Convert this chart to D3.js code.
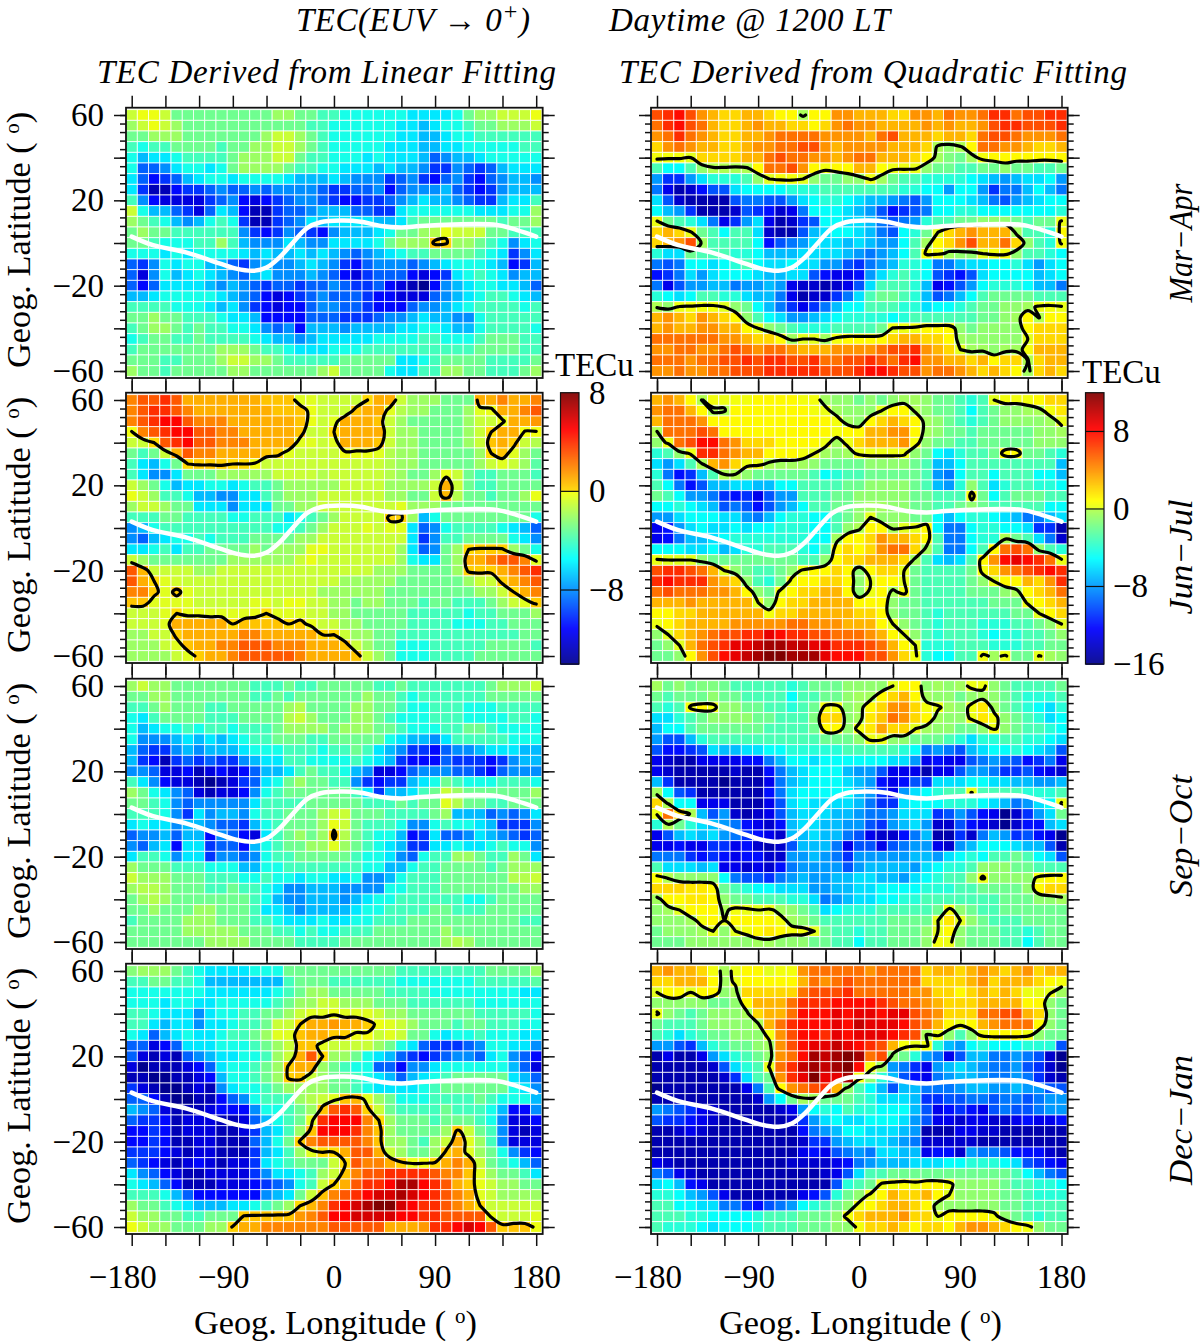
<!DOCTYPE html>
<html><head><meta charset="utf-8">
<script src="https://cdnjs.cloudflare.com/ajax/libs/d3/7.8.5/d3.min.js"></script>
<style>html,body{margin:0;padding:0;background:#fff}svg{display:block}text{font-family:"Liberation Serif",serif;fill:#000}</style>
</head><body><div id="chart"></div>
<script>
const lons=d3.range(-180,181,10);
const lats=d3.range(60,-61,-5);
const lonTicks=d3.range(-180,181,30);
const lonLabels=[-180,-90,0,90,180];
const latMajor=d3.range(-60,61,20);
const latMinor=d3.range(-60,61,4);
const latLabels=[60,20,-20,-60];
const eqLon=[-180,-161,-131,-102,-87,-72,-60,-48,-36,-24,-12,6,24,42,60,77,106,145,163,180];
const eqLat=[3,-1,-4.5,-9.5,-12,-13,-11.5,-6.5,0.5,7,9.7,10.5,10,8,7.3,8,8.7,8.5,6,3];
const marAprLinear=[
[-1,-0.2,-0.2,-1,-3,-3,-3,-3,-3,-3,-3,-3,-3,-2,-2,-3,-3,-4,-4,-5,-5,-5,-5,-5,-5,-6,-6,-6,-6,-5,-3,-2,-2,-1,-1,-1,-0.2],
[-2,-1,-0.2,-1,-2,-3,-3,-3,-3,-3,-3,-3,-3,-3,-3,-3,-4,-4,-5,-5,-5,-5,-5,-5,-6,-6,-7,-6,-5,-5,-4,-3,-3,-2,-2,-2,-1],
[-3,-3,-2,-2,-2,-3,-3,-3,-3,-3,-3,-3,-2,-1,-1,-2,-3,-4,-5,-5,-5,-5,-5,-5,-6,-6,-7,-7,-6,-5,-5,-4,-4,-4,-4,-4,-4],
[-4,-5,-4,-4,-3,-3,-3,-3,-4,-3,-3,-2,-2,-1,-1,-2,-3,-4,-5,-5,-5,-5,-5,-6,-6,-6,-7,-7,-6,-6,-5,-5,-5,-5,-5,-4,-4],
[-5,-7,-6,-6,-5,-4,-4,-4,-4,-3,-2,-2,-2,-1,-1,-3,-4,-4,-5,-5,-5,-6,-5,-6,-6,-6,-7,-9,-8,-7,-7,-6,-5,-5,-5,-5,-5],
[-5,-9,-9,-8,-6,-5,-5,-6,-5,-3,-2,-2,-2,-2,-3,-4,-4,-5,-5,-6,-6,-6,-7,-6,-7,-7,-8,-10,-10,-8,-9,-10,-9,-7,-6,-6,-6],
[-6,-9,-11,-10,-9,-7,-6,-5,-5,-6,-5,-5,-5,-5,-6,-7,-7,-7,-6,-7,-8,-8,-8,-10,-9,-8,-10,-11,-9,-8,-10,-11,-9,-8,-7,-7,-8],
[-6,-10,-13,-13,-11,-10,-10,-9,-8,-9,-9,-8,-9,-8,-8,-8,-8,-9,-10,-10,-9,-9,-8,-11,-9,-8,-8,-8,-7,-9,-10,-11,-10,-8,-7,-7,-7],
[-4,-8,-11,-12,-12,-12,-12,-10,-9,-8,-11,-12,-11,-10,-9,-8,-8,-9,-10,-11,-11,-10,-10,-9,-8,-7,-6,-7,-7,-8,-9,-10,-10,-7,-6,-6,-4],
[-1,-5,-7,-7,-9,-10,-12,-9,-6,-7,-11,-13,-13,-10,-9,-9,-8,-7,-7,-7,-9,-9,-10,-10,-6,-5,-5,-5,-5,-5,-5,-6,-6,-6,-5,-5,-2],
[-2,-3,-4,-5,-7,-8,-7,-5,-4,-5,-10,-13,-13,-10,-9,-8,-6,-7,-6,-6,-6,-6,-7,-7,-6,-4,-3,-3,-3,-3,-3,-3,-3,-4,-3,-3,-2],
[-3,-2,-3,-3,-4,-4,-4,-4,-4,-4,-8,-10,-11,-10,-8,-9,-10,-11,-8,-7,-7,-7,-6,-5,-3,-3,-2,-1.5,-0.3,-1,-1,-1,-3,-3,-4,-4,-4],
[-3,-3,-4,-5,-5,-5,-4,-4,-2,-4,-7,-8,-8,-8,-6,-7,-8,-8,-6,-6,-6,-6,-5,-3,-2,-2,-2,0.5,0.2,-2,-2,-3,-4,-5,-8,-6,-5],
[-5,-5,-5,-6,-5,-6,-5,-5,-5,-5,-6,-7,-6,-7,-7,-6,-7,-6,-7,-8,-9,-8,-7,-6,-5,-4,-4,-3,-3,-3,-3,-4,-5,-6,-10,-8,-6],
[-9,-10,-8,-5,-6,-5,-5,-7,-7,-9,-10,-8,-7,-8,-8,-7,-6,-7,-8,-10,-11,-9,-8,-8,-8,-9,-8,-7,-6,-5,-5,-5,-6,-7,-11,-10,-7],
[-9,-12,-8,-5,-7,-6,-5,-6,-7,-8,-9,-7,-6,-8,-8,-8,-7,-8,-9,-11,-12,-10,-9,-9,-9,-11,-12,-11,-10,-6,-5,-4,-5,-6,-8,-7,-7],
[-9,-11,-9,-6,-6,-6,-6,-7,-8,-7,-8,-9,-10,-9,-9,-10,-9,-9,-8,-9,-10,-10,-9,-11,-12,-13,-14,-11,-8,-7,-6,-5,-5,-6,-6,-7,-9],
[-7,-7,-6,-5,-5,-5,-5,-5,-6,-7,-8,-9,-11,-12,-11,-10,-9,-8,-9,-9,-9,-10,-11,-11,-12,-12,-12,-9,-8,-7,-6,-5,-4,-4,-5,-6,-7],
[-4,-4,-4,-4,-5,-5,-5,-6,-7,-6,-8,-10,-11,-12,-11,-11,-9,-8,-8,-9,-9,-10,-11,-11,-11,-9,-8,-8,-7,-6,-5,-4,-4,-4,-4,-5,-4],
[-3,-3,-2,-3,-3,-4,-4,-4,-5,-6,-6,-7,-11,-11,-11,-11,-9,-9,-9,-10,-10,-10,-9,-8,-8,-7,-6,-7,-7,-8,-8,-5,-4,-4,-4,-4,-4],
[-4,-3,-2,-2,-3,-4,-3,-4,-4,-5,-5,-6,-8,-9,-8,-11,-7,-7,-7,-8,-7,-7,-7,-7,-6,-6,-5,-5,-6,-7,-7,-5,-4,-4,-4,-4,-5],
[-5,-4,-3,-3,-4,-4,-3,-4,-4,-4,-4,-5,-6,-7,-7,-8,-7,-6,-6,-6,-6,-6,-5,-5,-5,-5,-4,-4,-5,-5,-5,-4,-3,-3,-3,-4,-4],
[-4,-3,-3,-3,-3,-3,-3,-3,-2,-2,-2,-3,-4,-4,-5,-6,-6,-6,-5,-5,-5,-4,-4,-4,-4,-4,-4,-4,-4,-4,-4,-3,-3,-3,-3,-4,-4],
[-3,-3,-3,-4,-4,-3,-3,-3,-2,-1,-1,-2,-2,-3,-4,-4,-4,-4,-4,-3,-3,-3,-3,-3,-6,-6,-5,-4,-3,-3,-3,-3,-4,-4,-4,-4,-3],
[-2,-3,-3,-4,-3,-3,-3,-3,-3,-2,-2,-3,-3,-3,-3,-3,-3,-2,-1,-3,-3,-3,-3,-5,-6,-6,-4,-4,-2,-2,-3,-3,-4,-4,-4,-3,-2]];
const marAprQuadratic=[
[6,7,8,6,4,3,2,2,3,3,2,1,1,-0.3,1,1,4,4,3,3,3,2,2,4,4,3,5,4,4,5,7,7,5,6,6,7,7],
[5,7,8,6,5,3,2,2,3,4,3,3,2,2,1,2,4,5,4,4,3,3,3,3,4,3,4,3,3,4,6,7,7,6,6,6,7],
[4,5,7,5,4,3,2,2,3,3,4,5,5,5,5,4,4,4,4,3,5,6,3,3,3,2,3,3,2,5,6,6,5,4,4,4,5],
[2,4,5,4,3,3,2,2,3,4,4,5,5,6,6,4,3,4,4,4,4,3,3,3,2,-0.3,-1,-0.2,1,5,5,4,4,3,2,2,3],
[0.5,0.5,0.5,0,2,2,2,2,3,3,5,6,5,5,4,4,3,4,5,5,3,3,3,2,1,-0.5,-1.5,-2,-0.5,0.5,1,1,1,1,1,1,1],
[-3,-5,-5,-3,-1,-0.2,-0.2,-0.3,-0.2,1,5,5,6,4,1,0.5,1,1,3,3,0.8,0.3,0.3,0.2,-1,-2,-2,-3,-3,-2,-2,-1,-2,-2,-3,-3,-2],
[-8,-11,-11,-8,-6,-4,-4,-4,-3,-1,0,0.5,0.5,0,-1,-2,-2,-1,-1,0.2,-0.5,-2,-3,-3,-4,-4,-4,-4,-5,-6,-7,-8,-7,-6,-6,-5,-8],
[-9,-13,-15,-14,-12,-10,-10,-6,-5,-5,-5,-5,-4,-4,-4,-3,-3,-3,-3,-3,-3,-3,-4,-4,-5,-5,-8,-5,-5,-8,-11,-9,-9,-7,-5,-7,-9],
[-6,-10,-14,-15,-15,-15,-15,-10,-9,-9,-10,-10,-8,-6,-5,-4,-4,-5,-6,-7,-7,-8,-9,-10,-8,-5,-5,-5,-6,-7,-9,-10,-8,-7,-6,-5,-5],
[-5,-7,-8,-11,-15,-15,-15,-14,-10,-11,-12,-14,-13,-9,-5,-5,-5,-6,-7,-8,-10,-12,-11,-10,-9,-5,-5,-4,-4,-5,-5,-5,-5,-5,-5,-5,-4],
[0.3,-2,-3,-4,-6,-9,-13,-11,-8,-6,-13,-15,-14,-11,-10,-5,-5,-6,-6,-7,-9,-10,-9,-8,-4,-3,-3,-2,-2,-1,-1,-1,-2,-3,-2,-2,0.3],
[2,3,2,0.2,-2,-3,-5,-3,-3,-6,-14,-15,-15,-10,-7,-6,-5,-5,-6,-7,-9,-10,-5,-4,-2,0,2,3,4,3,3,3,-0.5,-3,-3,-4,1],
[2,3,4,6,-0.5,-3,-3,-3,-3,-5,-12,-10,-9,-8,-6,-6,-6,-7,-6,-7,-8,-8,-5,-3,-0.5,1,2,4,6,3,3,5,2,-1,-3,-4,0.5],
[-4,-6,-6,-2,-3,-3,-3,-4,-4,-5,-7,-7,-7,-6,-6,-6,-6,-7,-8,-9,-8,-7,-5,-3,0.5,0.5,-0.5,-1,-1,0,0.5,0.5,-1,-3,-3,-4,-5],
[-9,-10,-9,-5,-5,-6,-5,-4,-3,-5,-6,-6,-5,-6,-6,-8,-8,-10,-11,-9,-8,-7,-4,-4,-5,-9,-9,-7,-6,-6,-5,-5,-4,-6,-8,-6,-5],
[-12,-11,-9,-6,-8,-6,-5,-5,-5,-6,-7,-7,-6,-6,-10,-12,-13,-13,-12,-8,-6,-4,-3,-4,-5,-10,-11,-12,-10,-6,-5,-5,-5,-5,-7,-6,-5],
[-9,-13,-10,-8,-8,-7,-7,-9,-8,-8,-7,-8,-13,-14,-14,-15,-14,-13,-10,-6,-3,-3,-3,-4,-7,-13,-12,-10,-8,-5,-4,-4,-4,-5,-7,-7,-9],
[-4,-5,-6,-5,-3,-3,-4,-4,-6,-7,-7,-9,-13,-15,-14,-14,-11,-9,-6,-3,-2,-2,-3,-4,-7,-10,-9,-7,-5,-3,-2,-2,-2,-2,-3,-3,-3],
[-0.2,-1,0.3,0.5,0.5,0.5,0,-1,-2,-5,-7,-9,-11,-13,-11,-9,-7,-5,-5,-3,-3,-3,-4,-4,-6,-5,-5,-4,-3,-2,-2,-1,-1,-0.5,0.3,0.5,0.2],
[3,4,3,2,4,3,2,1,-1,-3,-5,-6,-8,-8,-7,-6,-5,-4,-4,-4,-4,-5,-4,-3,-3,-3,-3,-3,-3,-2,-2,-1,-0.5,1,-0.05,1,1],
[3,4,3,3,4,4,3,3,1,0,-1,-2,-3,-4,-4,-4,-3,-3,-3,-3,-2,0.2,0.3,0.4,1,1,1,-1,-2,-1,-1,-1,-1,1,2,2,2],
[5,5,5,5,5,5,4,4,3,2,2,1,-0.5,0,0,-0.5,0.5,1,1,1,1,2,3,3,2,2,1,-0.5,-1,-1,-1,-1,-1,0,2,2,2],
[4,4,5,5,4,4,5,6,5,4,5,5,4,3,3,3,4,4,4,4,5,6,6,7,4,3,2,0,-0.5,-0.5,-1,-0.5,-0.5,0.5,3,3,3],
[5,5,5,4,5,5,6,6,7,6,7,7,6,6,7,5,5,6,6,7,6,5,7,8,4,4,3,3,2,3,1,2,2,-0.1,2,3,3],
[4,4,5,4,4,5,5,6,6,6,7,7,7,7,7,6,6,6,7,8,8,7,6,6,4,5,5,4,3,2,3,2,1,-0.5,2,3,2]];
const junJulLinear=[
[2,3,3,4,3,1,1,1,1,1,1,1,0.5,0.5,0.5,-0.5,-0.5,-1,-1,-1,-1,0,1,1,-1,-2,-2,-2,-3,-3,-3,1,1,2,1,1,2],
[2,3,4,4,3,2,1,1,1,1,1,1,1,0.5,0.5,0.5,-0.3,-1,-1,-1,0.5,1,1,-0.5,-1.5,-2,-2,-3,-3,-3,-2,-0.5,-0.3,1,1,2,3],
[2,3,4,5,5,3,2,2,2,1,1,1,1,1,1,0.5,-0.3,-1,-0.5,1,1,1,0.5,-1,-2,-3,-3,-3,-3,-3,-2,-1,-1,-0.2,1,1,1.5],
[-0.1,2,3,4,5,5,3,3,2,2,1,1,1,1,1,0.5,-1,-1,0,1,1,1,1,-1,-2,-2,-3,-3,-3,-3,-2,-1,0,1,1,-0.1,-0.1],
[-1,-1,0,3,4,5,3,3,2,2,2,1,1,1,1,-0.5,-0.5,-1,-0.5,1,1,1,0.5,-1,-2,-2,-3,-3,-3,-3,-2,-1,0.5,1,0.3,-1,-1.5],
[-3,-4,-3,-1,1,3,2,2,1,1,1,1,0.5,0.3,-0.5,-1,-1,-1,-1,-0.2,-0.3,-0.3,-0.5,-1.5,-2,-2,-3,-3,-3,-3,-3,-2,0,0.5,-0.5,-2,-3],
[-4,-6,-7,-5,-3,0,0.3,0.3,0.3,0,0,-0.1,-1,-1,-1,-1,-1,-1,-1,-1,-1,-1,-1,-1.5,-2,-2,-3,-3,-3,-3,-3,-2,-1,-0.5,-1,-2,-3.5],
[-4,-6,-8,-8,-6,-3,-3,-3,-2,-2,-2,-2,-2,-1,-1,-1,-1,-1.5,-1,-1,-1,-1,-1,-1.5,-2,-3,-3,-2,-0.3,-1,-3,-4,-4,-3,-3,-3,-4],
[-1,-2,-3,-5,-7,-6,-6,-5,-5,-6,-5,-4,-4,-3,-2,-2,-2,-2,-2,-1,-1,-1,-1,-2,-2,-2,-2,-1,1,-1,-3,-4,-4,-3,-3,-3,-3],
[-0.3,-1,-2,-4,-4,-5,-7,-7,-8,-8,-6,-6,-4,-3,-2,-2,-2,-1,-1,-1,-1,-1,-1,-2,-2,-3,-3,-1,0.8,-1.5,-3,-3,-4,-3,-3,-2,-0.3],
[-2,-1,-1,-2,-3,-3,-6,-6,-6,-8,-6,-6,-6,-3,-3,-2,-2,-1,-1,-1,-1,-1,-1,-1,-0.5,-2,-2,-2,-3,-3,-3,-3,-3,-3,-3,-3,-3],
[-4,-4,-4,-3,-3,-4,-4,-4,-4,-5,-5,-4,-4,-4,-6,-5,-4,-3,-2,-1,-1,-1,-1,0.3,0.2,-2,-7,-5,-3,-3,-3,-3,-3,-3,-3,-3,-5],
[-8,-7,-5,-4,-4,-4,-4,-4,-4,-4,-4,-4,-4,-5,-5,-4,-3,-2,-1,-1,-1,-0.5,-1,-0.5,-0.5,-6,-9,-8,-5,-4,-4,-4,-4,-5,-6,-7,-9],
[-8,-9,-7,-6,-5,-5,-4,-5,-4,-4,-4,-3,-3,-3,-3,-2,-2,-1,-1,-1,-1,-1,-1,-1,-1,-6,-10,-8,-4,-4,-3,-3,-3,-3,-5,-6,-8],
[-6,-6,-5,-4,-6,-4,-4,-3,-3,-3,-3,-2,-3,-2,-2,-2,-0.5,-0.3,-1,-1,-1,-1,-1,-1,-2,-6,-9,-8,-3,-2,0,0.3,0.3,0.2,-2,-3,-5],
[-1,-2,-3,-3,-3,-3,-3,-3,-3,-2,-2,-2,-2,-2,-2,-1,-0.3,-1,-1,-1,-1,-1,-1,-1,-2,-5,-6,-6,-3,-2,1,1,2,3,3,2,-0.5],
[3,0.8,-1,-1,-1,-1,-2,-2,-1,-1,-1,-1,-1,-1,-1,-1,-1,-1,-1,-1,-1,-1,-2,-2,-2,-3,-3,-3,-3,-2,0.3,0.3,0.3,1,2,3,4],
[3,1,0,-0.5,-0.8,-1,-1,-1,-1,-1,-1,-1,-1,-1,-1,-1,-1,-1,-1,-2,-2,-2,-2,-2,-3,-3,-3,-3,-3,-3,-2,-1,-1,0.3,1,2,3],
[2,2,0.3,-0.5,0.3,-0.5,-1,-1,-1,-1,-1,-1,-1,-1,-1,-1,-1,-2,-2,-2,-2,-2,-2,-3,-3,-3,-3,-3,-3,-3,-3,-2,-2,-1,0,1,2],
[0.5,0.5,-0.5,-0.5,-0.5,-0.5,-1,-1,-1,-1,-1,-0.5,-0.5,-1,-0.3,-0.3,-1,-1,-2,-2,-3,-2,-2,-3,-3,-3,-4,-3,-3,-4,-4,-4,-3,-2,-1,-0.5,0.3],
[-1,-1,-1,-0.5,0,-0.3,-0.3,-0.5,-0.5,-0.5,-0.5,-0.3,0,-0.5,-0.5,-0.5,-1,-1,-2,-2,-3,-3,-3,-3,-3,-4,-4,-4,-4,-4,-5,-4,-4,-3,-3,-3,-2],
[-1,-1,-1,-0.5,1,1,1,1,1,0,0.5,0.5,0.5,0.5,0,0.3,-0.3,-1,-1,-2,-2,-3,-3,-3,-3,-4,-4,-4,-4,-5,-5,-5,-4,-4,-3,-3,-3],
[-2,-2,-1,-1,0.3,1,1,1,1,1,2,2,1,1,1,1,1,0,0,-1,-2,-2,-3,-3,-4,-4,-4,-4,-4,-4,-4,-4,-4,-4,-4,-3,-3],
[-2,-2,-2,-1,-0.5,0.5,1,1,2,2,3,3,3,2,2,2,1,1,1,0.5,-1,-2,-3,-3,-5,-5,-5,-4,-4,-4,-4,-4,-3,-3,-3,-3,-4],
[-2,-2,-2,-2,-1,-0.5,0.3,1,1,2,3,3,3,3,3,2,1,1,1,1,0.5,-1,-2,-3,-5,-5,-5,-4,-4,-4,-4,-3,-3,-3,-3,-3,-3]];
const junJulQuadratic=[
[3,4,3,1,-0.05,0.5,0.3,0.5,0.5,1,1,1,1,0.5,0.5,-0.5,-1,-1,-2,-1,-2,-1,-0.5,-0.5,-1,-2,-2,-3,-4,-3,0,0.5,0.5,0.5,1,2,2],
[4,5,5,3,1,-0.2,-0.1,1,1,1,1,1,1,1,0.5,0.3,-0.5,-1,-1,-1,0,1,1,-0.2,-1,-2,-2,-3,-5,-3,-2,-1,-1,-0.5,-0.3,0.5,1.5],
[3,5,5,5,4,1,1,1,1,1,1,1,1,1,1,1,0.5,-0.5,-1,1,2,3,2,1,-0.5,-1,-2,-3,-4,-3,-2,-1,-1,-1,-1,-0.5,0.3],
[-0.2,5,5,5,6,5,1,1,1,1,1,1,1,1,1,1,0.5,1,1,3,3,4,4,1,-0.5,-1,-2,-2,-3,-2,-2,-2,-2,-2,-1,-1,-0.5],
[-1,0.3,5,6,8,8,5,4,2,2,2,1,1,1,1,0.3,-0.5,0.3,2,3,3,3,4,0.5,-1,-2,-2,-3,-3,-2,-2,-2,-2,-2,-1,-1,-1],
[-4,-3,-1,0.3,7,7,5,4,3,3,1,1,1,0.5,0,-0.5,-1,-0.5,0.3,0.3,0.3,0.3,0.2,-1,-2,-5,-6,-4,-3,-3,-2,1,1,-2,-2,-3,-4],
[-6,-8,-6,-3,-0.2,3,4,2,0.3,0.3,-0.2,-0.5,-0.5,-0.5,-1,-2,-2,-2,-2,-1,-1,-1,-1,-2,-3,-7,-7,-5,-3,-3,-3,-3,-3,-3,-3,-3,-7],
[-4,-9,-12,-11,-7,-3,-0.1,-0.1,-1,-2,-2,-2,-2,-2,-3,-5,-4,-3,-3,-2,-2,-2,-2,-2,-3,-8,-9,-5,-3,-3,-5,-3,-3,-3,-5,-5,-7],
[-3,-5,-9,-12,-10,-7,-7,-6,-6,-7,-7,-5,-5,-3,-3,-3,-3,-2,-2,-1,-1,-1,-1,-2,-3,-7,-8,-4,-1,-3,-6,-4,-3,-3,-4,-4,-5],
[-2,-3,-5,-8,-8,-9,-11,-12,-11,-13,-10,-8,-8,-3,-3,-3,-2,-2,-1,-1,-1,-1,-1,-2,-2,-3,-3,-3,0.6,-2,-5,-3,-2,-2,-2,-3,-3],
[-5,-5,-4,-5,-6,-7,-10,-9,-10,-12,-10,-8,-7,-5,-3,-3,-2,-2,-1,-0.5,-0.5,-1,-1,-2,-2,-3,-3,-2,-1,-2,-3,-3,-3,-3,-3,-5,-5],
[-8,-8,-6,-5,-5,-5,-6,-6,-8,-9,-7,-5,-4,-4,-5,-5,-3,-2,-1,0,-1,-1,-1,-2,-2,-5,-7,-5,-4,-4,-5,-6,-7,-9,-9,-7,-6],
[-13,-12,-8,-6,-5,-6,-6,-5,-6,-5,-5,-4,-4,-4,-5,-5,-3,-1,-0.2,1,1,-0.3,0,0.2,1,-5,-9,-9,-5,-4,-4,-5,-5,-6,-11,-11,-15],
[-13,-12,-9,-7,-7,-6,-5,-4,-4,-4,-4,-4,-4,-4,-5,-5,-0.5,1,1,2,4,3,3,2,1,-3,-9,-9,-5,-4,-4,-0.2,-2,-3,-6,-9,-14],
[-5,-5,-5,-6,-6,-5,-7,-6,-4,-4,-3,-3,-3,-4,-5,-3,1,2,1,2,4,5,5,2,-0.5,-3,-9,-9,-5,-3,1,5,6,5,-1,-3,-4],
[0.3,0,0,0,-1,-2,-2,-2,-2,-2,-2,-2,-2,-3,-3,-1,1,2,2,3,3,3,2,-0.5,-3,-6,-7,-6,-3,1,4,8,9,8,7,5,0.3],
[6,7,7,6,5,3,0,-1,-2,-3,-3,-2,-1,0.3,1,1,2,1,-1,1,2,2,0,-2,-3,-3,-3,-3,-2,0.5,2,4,5,6,7,8,7],
[7,8,7,7,7,4,3,2,-1,-3,-4,-2,0.5,1,1,2,2,1,-1,0,1,1,0,-2,-3,-3,-3,-3,-2,-1,0,1,1,3,2,4,7],
[5,6,5,5,5,4,4,3,1,-1,-2,0.5,1,2,2,3,3,1,-1,0.3,1,-0.3,0.5,-2,-3,-3,-3,-3,-2,-2,-2,-1,-0.3,1,2,3,5],
[3,3,3,4,3,3,3,3,3,0,-1,1,2,2,3,3,3,3,1,1,1,-1,-2,-2,-3,-3,-3,-3,-3,-3,-2,-2,-2,0.3,1,2,3],
[1,1,2,2,3,3,3,3,3,3,0.5,2,2,3,3,3,3,3,2,2,1,-1,-2,-2,-3,-4,-3,-3,-3,-3,-3,-3,-2,-2,0,1,2],
[0.3,1,2,3,3,3,3,4,4,4,4,4,5,5,4,4,4,3,3,3,1,0,-1,-2,-3,-4,-3,-3,-3,-4,-4,-4,-3,-3,-2,-1,0],
[-1,0,2,3,4,5,6,6,7,7,9,8,7,7,6,6,5,5,5,4,3,1,0,-1,-3,-4,-3,-3,-3,-4,-5,-4,-4,-3,-3,-2,-1],
[-2,-1,0,3,5,6,7,9,9,10,11,11,10,10,9,9,7,7,7,6,5,3,1,0,-4,-4,-4,-3,-3,-3,-4,-4,-4,-3,-3,-2,-2],
[-2,-2,-1,1,4,6,8,9,10,11,12,12,11,11,11,9,8,8,8,6,6,4,2,0.5,-4,-5,-5,-3,-3,0.5,-0.5,0.3,-2,-2,0.1,-0.5,-1]];
const sepOctLinear=[
[-2,-1,-2,-2,-3,-3,-3,-3,-3,-3,-3,-4,-4,-4,-3,-4,-4,-3,-3,-3,-3,-3,-4,-4,-3,-4,-4,-4,-4,-4,-4,-4,-3,-2,-2,-2,-1],
[-3,-3,-2,-2,-3,-3,-3,-3,-3,-3,-3,-4,-4,-3,-4,-3,-3,-3,-3,-3,-3,-2,-3,-3,-4,-5,-4,-4,-4,-4,-4,-4,-3,-3,-3,-3,-3],
[-4,-4,-3,-2,-3,-3,-3,-4,-4,-3,-3,-3,-3,-3,-2,-1.5,-3,-3,-3,-3,-2,-2,-3,-3,-4,-5,-5,-4,-4,-4,-5,-5,-5,-4,-4,-4,-4],
[-5,-6,-4,-3,-3,-3,-3,-4,-4,-4,-3,-3,-3,-3,-1.5,-1,-2,-3,-3,-3,-2,-2,-3,-4,-5,-5,-5,-4,-4,-4,-5,-5,-5,-5,-4,-4,-5],
[-5,-7,-6,-5,-5,-4,-5,-4,-4,-5,-4,-4,-4,-3,-2,-2,-2,-2,-3,-2,-2,-2,-3,-3,-4,-5,-5,-5,-4,-4,-3,-3,-4,-5,-5,-5,-5],
[-5,-8,-8,-8,-7,-6,-7,-6,-7,-6,-5,-4,-4,-3,-3,-3,-4,-4,-3,-3,-3,-3,-3,-5,-6,-7,-7,-8,-6,-4,-4,-4,-4,-4,-5,-5,-5],
[-7,-9,-10,-10,-8,-7,-8,-7,-7,-7,-6,-5,-5,-5,-4,-4,-4,-5,-4,-4,-3,-4,-6,-7,-8,-10,-10,-11,-9,-8,-8,-7,-6,-6,-6,-7,-7],
[-7,-10,-11,-13,-10,-9,-10,-9,-10,-10,-8,-7,-6,-6,-4,-4,-5,-5,-5,-5,-4,-5,-6,-7,-10,-11,-11,-11,-9,-10,-10,-10,-11,-10,-8,-7,-7],
[-8,-8,-9,-12,-12,-11,-13,-12,-11,-12,-11,-9,-7,-7,-6,-4,-3,-4,-4,-5,-7,-8,-12,-12,-11,-9,-8,-8,-8,-9,-9,-10,-11,-9,-8,-8,-8],
[-4,-6,-8,-11,-12,-12,-13,-14,-13,-12,-10,-9,-6,-5,-3,-2,-3,-3,-4,-4,-8,-10,-11,-10,-10,-7,-6,-5,-3,-4,-5,-5,-5,-4,-4,-4,-5],
[-2,-3,-5,-6,-8,-9,-12,-13,-12,-12,-11,-8,-5,-4,-3,-3,-3,-3,-3,-3,-4,-6,-10,-7,-7,-6,-4,-3,-1,-2,-3,-3,-3,-3,-3,-3,-2],
[-3,-3,-4,-5,-8,-9,-8,-8,-8,-8,-8,-6,-4,-4,-4,-4,-3,-3,-3,-3,-3,-4,-4,-4,-3,-4,-3,-3,-0.5,-1.5,-3,-3,-4,-4,-3,-3,-3],
[-4,-4,-4,-5,-8,-10,-6,-8,-7,-7,-8,-5,-4,-4,-3,-3,-3,-2,-1,-1,-3,-3,-3,-4,-4,-4,-4,-3,-2,-7,-7,-7,-9,-8,-9,-8,-6],
[-6,-5,-6,-6,-8,-7,-7,-8,-9,-9,-10,-7,-5,-4,-3,-3,-3,-2,-0.3,-1,-3,-4,-4,-4,-5,-8,-8,-5,-4,-5,-5,-6,-7,-10,-10,-10,-8],
[-9,-8,-8,-7,-9,-7,-7,-11,-8,-9,-11,-12,-6,-4,-3,-2,-3,-2,0.3,-1.5,-3,-4,-5,-5,-7,-11,-10,-6,-9,-9,-8,-6,-7,-8,-9,-10,-9],
[-8,-9,-7,-6,-11,-6,-6,-10,-9,-9,-11,-7,-5,-4,-3,-3,-2,-2,-0.5,-2,-3,-4,-5,-6,-7,-10,-10,-6,-6,-5,-6,-6,-5,-4,-5,-5,-8],
[-6,-4,-4,-5,-8,-6,-6,-10,-8,-8,-9,-8,-5,-4,-4,-3,-3,-3,-3,-3,-4,-5,-5,-6,-8,-9,-5,-4,-4,-2,-2,-3,-4,-4,-2,-3,-6],
[-2,-3,-3,-3,-4,-4,-4,-5,-5,-5,-7,-7,-5,-5,-4,-4,-4,-4,-4,-4,-4,-5,-5,-7,-7,-5,-4,-4,-3,-3,-3,-3,-4,-3,-2,-2,-2],
[-1,-2,-2,-2,-3,-3,-3,-4,-4,-4,-5,-5,-4,-5,-5,-6,-5,-5,-6,-6,-5,-8,-8,-7,-5,-4,-4,-4,-3,-3,-3,-3,-3,-3,-1.5,-1.5,-1],
[-2,-1.5,-1.5,-2,-3,-3,-3,-4,-4,-3,-4,-4,-5,-6,-8,-8,-7,-7,-7,-8,-8,-8,-8,-5,-5,-4,-4,-4,-3,-3,-3,-3,-3,-3,-3,-2,-2],
[-3,-2,-1.5,-2,-3,-3,-3,-3,-3,-3,-3,-4,-5,-7,-8,-8,-7,-7,-7,-8,-7,-6,-5,-5,-4,-4,-4,-4,-4,-4,-5,-5,-4,-3,-3,-3,-3],
[-3,-3,-2,-3,-3,-3,-2,-2,-3,-3,-3,-4,-6,-6,-7,-8,-7,-7,-7,-7,-6,-5,-5,-4,-4,-4,-4,-3,-3,-4,-4,-4,-3,-3,-3,-3,-3],
[-4,-3,-3,-3,-3,-2,-2,-2,-3,-3,-3,-4,-4,-5,-6,-6,-6,-5,-6,-6,-5,-5,-4,-4,-4,-3,-3,-3,-3,-3,-3,-3,-3,-3,-3,-4,-4],
[-3,-3,-3,-3,-3,-2,-2,-2,-2,-2,-3,-3,-3,-4,-4,-5,-4,-5,-5,-4,-4,-4,-3,-3,-3,-3,-3,-3,-2,-3,-3,-3,-3,-3,-3,-3,-3],
[-3,-3,-3,-3,-3,-3,-3,-2,-2,-2,-2,-3,-3,-3,-3,-4,-4,-4,-4,-3,-3,-3,-3,-3,-3,-3,-3,-3,-2,-1.5,-2,-3,-3,-3,-3,-3,-3]];
const sepOctQuadratic=[
[-0.5,-2,-1,-2,-1.5,-1.5,-2,-3,-3,-3,-3,-3,-4,-3,-2,-2,-2,-1,-1,-1,-1,0,1,1,-1,-0.5,-1,-0.5,0.3,0.3,-1,-2,-3,-3,-3,-3,-2],
[-2,-3,-2,-2,-2,-1,-2,-2,-3,-3,-3,-3,-5,-3,-3,-2,-2,-1,-0.5,-0.5,1,2,3,1,-0.5,-1,-1,-2,-1,-0.5,-1,-2,-3,-4,-4,-4,-3],
[-3,-4,-3,0.4,1,0.4,-1,-1,-2,-2,-3,-3,-4,-3,-2,0.5,0.5,-1,-0.5,1,2,4,4,2,0.5,0.2,-0.5,-1,0.5,1.5,-0.5,-2,-3,-4,-5,-6,-4],
[-6,-6,-4,-3,-2,-1,-1,-1,-1,-2,-2,-3,-3,-3,-1.5,2,2,-1,-0.5,1.5,2.5,5,4,2,1,-0.5,-1,-1,0.3,1.5,0.5,-1,-2,-3,-4,-6,-5],
[-7,-5,-5,-3,-2,-2,-2,-2,-2,-2,-3,-3,-3,-3,-2,1,1,-1,0.5,1.5,3.5,2,2,0,-0.5,-1,-1,-2,-2,-1,0.3,-1,-2,-3,-3,-4,-5],
[-8,-10,-10,-7,-4,-3,-3,-3,-3,-3,-3,-3,-3,-3,-3,-2,-2,-2,-1,0.3,0.2,-1,-1,-2,-2,-2,-3,-4,-6,-4,-4,-3,-3,-4,-4,-5,-6],
[-10,-12,-12,-11,-10,-6,-7,-7,-6,-6,-5,-5,-4,-4,-4,-4,-4,-3,-3,-3,-3,-3,-4,-5,-9,-8,-9,-10,-7,-6,-5,-5,-4,-5,-6,-7,-10],
[-13,-14,-15,-15,-13,-13,-13,-13,-12,-12,-9,-7,-5,-5,-6,-5,-5,-5,-5,-5,-5,-6,-6,-8,-13,-12,-13,-13,-10,-9,-8,-9,-10,-12,-11,-9,-13],
[-13,-14,-15,-15,-15,-15,-15,-14,-15,-15,-12,-9,-7,-6,-5,-5,-5,-7,-8,-8,-10,-13,-13,-13,-15,-13,-13,-10,-8,-8,-9,-11,-11,-10,-12,-13,-14],
[-7,-11,-15,-15,-15,-15,-16,-15,-15,-15,-13,-9,-7,-6,-5,-5,-5,-6,-7,-8,-12,-13,-12,-10,-11,-6,-6,-6,-5,-5,-6,-6,-7,-7,-8,-8,-7],
[-0.5,-5,-10,-11,-15,-15,-15,-15,-15,-15,-12,-9,-6,-5,-5,-5,-5,-5,-7,-8,-11,-13,-8,-6,-5,-4,-3,-3,0.2,-3,-3,-3,-3,-4,-4,-4,-3],
[2,-0.2,-5,-5,-13,-13,-13,-15,-15,-15,-13,-10,-6,-5,-6,-6,-6,-6,-7,-9,-11,-11,-6,-5,-5,-5,-4,-4,-4,-5,-6,-7,-9,-8,-6,-5,0.3],
[0.3,5,2,-0.2,-7,-10,-8,-14,-15,-14,-13,-10,-7,-6,-6,-6,-7,-7,-8,-9,-9,-8,-6,-6,-6,-11,-10,-8,-10,-12,-13,-16,-14,-11,-8,-6,-2],
[-4,-0.2,-2,-4,-6,-7,-8,-9,-12,-13,-14,-12,-7,-6,-6,-7,-7,-8,-8,-10,-11,-8,-7,-6,-8,-14,-14,-10,-12,-13,-14,-16,-14,-12,-12,-7,-6],
[-13,-10,-7,-6,-7,-6,-8,-9,-11,-12,-13,-14,-7,-7,-6,-7,-7,-9,-10,-13,-14,-14,-12,-9,-7,-15,-15,-11,-14,-9,-7,-8,-11,-10,-12,-13,-16],
[-13,-13,-12,-13,-13,-11,-11,-13,-12,-14,-15,-14,-10,-7,-7,-7,-9,-13,-10,-10,-13,-10,-9,-8,-8,-13,-14,-8,-7,-5,-5,-5,-6,-7,-7,-10,-15],
[-9,-9,-9,-11,-12,-11,-12,-13,-12,-12,-14,-14,-8,-8,-7,-8,-9,-11,-8,-8,-8,-8,-8,-7,-7,-8,-6,-5,-4,-5,-3,-3,-2,-3,-5,-6,-10],
[-3,-6,-6,-6,-7,-6,-13,-13,-14,-13,-14,-12,-9,-8,-8,-8,-8,-10,-8,-7,-7,-7,-7,-8,-6,-5,-4,-4,-3,-1,-1,-1,-2,-2,-3,-3,-3],
[0.8,-0.1,-1,-1,-1,-1,-5,-9,-10,-10,-11,-9,-8,-7,-8,-8,-7,-7,-6,-6,-7,-7,-8,-6,-5,-4,-3,-3,-1,0.2,-1,-1,-1,-1,0.5,1,1],
[2,2,2,1.5,1.5,1,-2,-3,-4,-5,-5,-6,-6,-6,-8,-8,-7,-7,-6,-6,-5,-5,-5,-5,-4,-4,-4,-3,-3,-2,-2,-2,-2,-1,1,2,2],
[-0.5,1,1,1.5,1.5,1,-1,-2,-2,-3,-3,-3,-4,-4,-6,-9,-8,-7,-6,-6,-5,-5,-4,-4,-3,-3,-3,-3,-3,-3,-3,-2,-2,-2,-1,-1,-0.5],
[-1,-0.5,0,1,1,1,-0.3,0.5,0.3,0,0.3,-0.5,-1,-2,-3,-6,-5,-4,-4,-4,-3,-3,-3,-3,-3,-2,0.5,-1,-2,-3,-3,-2,-2,-2,-2,-2,-2],
[-1,-1,-1,-0.5,0.5,1,0,1,1,1,1,0.5,-0.5,-1,-2,-3,-3,-3,-3,-3,-3,-2,-2,-2,-2,0,1.5,0,-1,-2,-3,-3,-3,-2,-2,-2,-2],
[-2,-1,-1,-1,-0.5,0,-1,0,0.5,1,1.5,1,0.5,0.5,0,-2,-3,-3,-4,-3,-3,-2,-2,-2,-1,0,1,-1,-2,-2,-2,-3,-3,-4,-3,-2,-2],
[-2,-2,-2,-1,-1,-1,-1,-1,-1,-0.5,-0.5,-1,-1,-1,-2,-2,-3,-3,-5,-3,-3,-2,-2,-2,-1,0.5,0.3,-1,-2,-2,-2,-3,-3,-5,-3,-2,-2]];
const decJanLinear=[
[-2.5,-2,-2,-2,-3,-4,-5,-6,-6,-6,-6,-5,-5,-5,-3,-3,-3,-3,-3,-3,-3,-3,-3,-3,-4,-4,-4,-4,-4,-4,-4,-4,-3,-3,-3,-3,-2],
[-4,-4,-3,-3,-4,-4,-5,-7,-7,-7,-7,-7,-7,-7,-4,-3,-3,-3,-4,-4,-4,-4,-4,-4,-5,-5,-5,-5,-5,-5,-5,-4,-4,-4,-4,-4,-3.5],
[-5,-5,-5,-5,-5,-5,-5,-6,-6,-6,-6,-6,-6,-5,-4,-3,-2,-2,-3,-3,-3,-3,-3,-4,-4,-4,-4,-5,-5,-5,-5,-5,-5,-5,-5,-6,-6],
[-5,-5,-5,-6,-5,-5,-6,-6,-5,-5,-5,-5,-5,-4,-3,-2,-2,-1,-1,-2,-2,-2,-3,-3,-3,-4,-4,-4,-4,-4,-4,-5,-5,-5,-5,-5,-5],
[-4,-4,-5,-6,-6,-6,-8,-6,-5,-5,-4,-4,-3,-3,-2,-1,-0.5,-0.5,-0.2,-0.5,-0.5,-0.5,-1,-2,-2,-3,-3,-3,-3,-3,-3,-4,-4,-4,-4,-4,-5],
[-4,-4,-6,-7,-6,-6,-8,-6,-6,-5,-4,-4,-3,-1,-1,0,1,1,1.5,1,1,0.3,-0.2,-0.5,-1,-2,-3,-3,-3,-4,-3,-3,-4,-4,-4,-5,-5],
[-5,-6,-9,-7,-6,-5,-6,-6,-5,-4,-4,-3,-2,-0.5,-0.5,0.5,1,1,0.3,0.3,-0.3,-0.1,-1,-0.5,-1,-3,-3,-5,-6,-5,-5,-4,-5,-5,-5,-6,-6],
[-9,-9,-12,-11,-9,-6,-6,-6,-5,-5,-5,-4,-3,-2,-1,0.5,0.5,-0.5,-1,-1,-1,-1,-2,-3,-5,-6,-9,-10,-10,-10,-9,-8,-5,-5,-6,-6,-8],
[-9,-12,-13,-12,-13,-9,-8,-7,-6,-6,-5,-5,-4,-2,-1,1,3,0,-2,-2,-3,-5,-6,-7,-9,-10,-11,-10,-9,-8,-8,-9,-6,-5,-8,-9,-11],
[-12,-14,-13,-13,-13,-12,-11,-9,-6,-5,-5,-4,-3,-2,0.3,1,1,-2,-3,-4,-5,-5,-9,-9,-11,-8,-8,-6,-5,-5,-5,-5,-5,-5,-7,-9,-12],
[-13,-13,-14,-14,-13,-13,-12,-11,-7,-5,-5,-4,-3,-2,0.3,0.5,-1,-2,-3,-3,-4,-5,-6,-7,-9,-7,-6,-5,-4,-3,-3,-3,-3,-3,-6,-7,-9],
[-10,-12,-13,-14,-14,-13,-12,-13,-8,-6,-5,-5,-4,-3,-2,-2,-2,-2,-3,-3,-4,-5,-6,-6,-6,-6,-5,-4,-3,-3,-3,-3,-3,-3,-5,-6,-8],
[-9,-9,-11,-13,-14,-14,-13,-13,-11,-9,-8,-5,-4,-4,-4,-2,-1.5,-1,-0.5,0.5,0.8,-0.5,-2,-3,-5,-5,-5,-4,-4,-4,-4,-3,-4,-5,-5,-5,-7],
[-7,-8,-9,-12,-13,-13,-13,-12,-11,-11,-11,-8,-5,-5,-4,-3,-2,0.5,3,4,3,0.2,-1,-3,-4,-4,-4,-4,-3,-4,-4,-4,-5,-7,-11,-11,-8],
[-9,-10,-10,-11,-13,-12,-12,-12,-13,-13,-12,-9,-7,-5,-4,-3,-0.5,4,5,5,5,2,0,-2,-3,-3,-3,-4,-3,-3,-3,-4,-5,-8,-12,-12,-11],
[-11,-11,-10,-11,-13,-12,-12,-12,-13,-13,-12,-10,-7,-6,-4,-2,0.5,5,5,5,4,2,0.5,-2,-3,-3,-3,-3,-2,0.3,-1,-3,-4,-8,-12,-13,-12],
[-11,-11,-10,-11,-13,-13,-12,-12,-13,-13,-13,-9,-7,-5,-3,0.3,2,3,3,3,3,2,0.5,-2,-2,-3,-4,-2,-1,1,-0.5,-2,-4,-8,-12,-12,-12],
[-10,-10,-10,-11,-12,-13,-12,-12,-13,-13,-13,-10,-7,-6,-4,-2,-0.5,0,0,1,3,3,1,-1,-2,-3,-3,-2,0.3,1,-0.5,-2,-3,-5,-8,-10,-11],
[-9,-10,-11,-12,-13,-12,-11,-12,-13,-12,-12,-10,-6,-5,-4,-3,-3,-3,-1,0,3,2,2,1,0.2,-0.2,-0.1,0.1,1,2,1,-1,-3,-4,-5,-7,-9],
[-6,-8,-9,-11,-12,-13,-13,-12,-12,-12,-12,-10,-8,-6,-6,-5,-4,-2,-1,0.5,2,3,3,4,4,4,4,3,2,2,0.5,-0.5,-2,-3,-3,-4,-6],
[-5,-6,-7,-9,-11,-13,-13,-13,-12,-12,-12,-11,-10,-9,-8,-5,-4,-1,0,1,3,4,4,5,7,7,5,4,3,1,0.3,-0.3,-1,-2,-2,-3,-3],
[-4,-4,-4,-5,-7,-9,-11,-11,-11,-11,-11,-11,-8,-7,-6,-3,-1,0.5,2,3,4,5,6,6,7,6,5,4,3,2,1,-0.5,-1,-2,-2,-2,-2],
[-2,-3,-3,-4,-5,-6,-7,-7,-7,-6,-6,-5,-4,-3,-2,0,0.8,2,4,5,6,7,8,8,6,5,4,4,3,2,1,0,-1,-1,-1,-1,-1],
[-1,-2,-2,-3,-3,-4,-4,-3,-3,-3,0.3,0.5,0.5,0.5,0.5,1.5,2,3,5,5,6,6,6,6,5,5,4,4,3,3,3,3,-0.3,-1,-1,-1,-0.5],
[-0.2,-1,-2,-2,-3,-3,-3,-2,-2,0.2,1,1,2,2,2,2,2,2,3,3,3,3,3,1,1,1,1.5,4,4,5,6,5,3,0.3,0.5,0.5,-0.2]];
const decJanQuadratic=[
[3,4,3,3,2,0.5,-0.3,0.2,1,1,0,0.5,0.5,4,5,5,5,5,5,4,5,5,5,5,2,3,3,2,3,4,3,2,3,4,2,3,3],
[2,2,3,3,3,1,-0.5,0.2,1,1,1,1,1,3,5,4,5,6,5,5,5,5,5,5,2,2,2,2,3,4,2,3,3,3,2,1,0.5],
[0,1,1,0,1,1,-1,-0.3,2,2,2,2,2,5,6,6,6,7,5,5,5,5,5,4,4,2,2,1,2,3,2,3,2,0.3,0.2,0.1,-0.5],
[-1,-1,-1,-1,-1,-2,-2,-1,1,3,3,3,5,7,7,7,8,8,8,8,7,6,5,5,4,3,2,2,2,3,3,3,3,1,1,-1,-2],
[0.2,-1,-2,-3,-2,-1,-1,-1,-0.3,2,3,3,5,8,8,8,9,8,9,9,8,9,9,6,5,4,2,2,2,5,5,6,6,3,2,-1,-2],
[-2,-3,-3,-3,-2,-1,-1,-1,-1,-0.2,3,5,7,8,8,8,9,8,10,9,9,9,8,6,5,3,1,0.3,1,3,4,5,5,5,1,-1,-2],
[-3,-4,-6,-4,-3,-2,-2,-1,-1,-1,0.5,4,6,8,8,7,9,8,9,9,9,8,7,6,-0.3,0.3,-1,-3,-1,0.5,1,1,1,0.5,-1,-2,-2],
[-8,-8,-10,-11,-7,-4,-3,-2,-2,-1,-0.5,4,6,8,9,9,10,9,8,7,6,3,0.5,0.2,0.5,-4,-7,-8,-5,-4,-5,-5,-5,-4,-4,-4,-10],
[-15,-13,-15,-15,-13,-8,-6,-4,-3,-2,-1,4,5,8,11,10,11,12,11,5,6,-1,-2,-4,-8,-9,-13,-10,-7,-7,-9,-9,-8,-9,-10,-14,-16],
[-15,-15,-15,-15,-15,-14,-10,-6,-4,-3,0.2,5,7,10,11,10,11,12,8,0.5,-0.5,-8,-9,-11,-13,-8,-7,-6,-7,-8,-9,-9,-8,-10,-11,-14,-16],
[-15,-15,-15,-15,-15,-15,-14,-11,-6,-3,-2,4,7,9,12,9,9,11,0.5,-1,-4,-7,-10,-12,-13,-9,-8,-7,-7,-8,-9,-9,-8,-9,-11,-14,-15],
[-16,-15,-15,-15,-15,-15,-15,-15,-13,-9,-3,1,4,5,6,7,3,-1,-3,-5,-7,-10,-7,-7,-9,-9,-9,-8,-7,-7,-8,-8,-7,-8,-8,-10,-10],
[-15,-15,-15,-15,-15,-15,-15,-15,-15,-14,-8,-5,-2,-0.5,-0.5,-2,-2,-2,-3,-4,-6,-6,-6,-7,-11,-11,-10,-10,-9,-9,-10,-9,-9,-10,-9,-8,-8],
[-8,-9,-10,-11,-13,-14,-15,-15,-15,-15,-15,-14,-13,-8,-5,-4,-5,-3,-4,-4,-5,-5,-5,-7,-10,-13,-12,-11,-12,-13,-10,-9,-10,-10,-9,-8,-8],
[-10,-11,-11,-12,-13,-14,-15,-15,-15,-15,-15,-15,-14,-11,-8,-6,-5,-6,-6,-5,-5,-5,-6,-8,-10,-13,-13,-14,-13,-13,-14,-14,-13,-12,-13,-13,-12],
[-15,-15,-14,-13,-14,-15,-15,-15,-15,-15,-15,-15,-15,-12,-9,-8,-7,-5,-5,-6,-6,-6,-7,-8,-15,-15,-15,-13,-13,-14,-14,-15,-15,-15,-15,-15,-15],
[-15,-15,-15,-15,-15,-15,-15,-15,-15,-15,-15,-15,-15,-14,-11,-11,-8,-7,-6,-6,-6,-7,-8,-9,-14,-14,-14,-14,-14,-15,-15,-15,-15,-15,-15,-15,-15],
[-15,-15,-15,-15,-15,-15,-15,-15,-15,-15,-15,-15,-15,-13,-12,-13,-10,-9,-8,-9,-6,-6,-7,-7,-13,-12,-12,-14,-8,-9,-9,-10,-12,-12,-12,-14,-15],
[-13,-14,-15,-15,-15,-15,-15,-15,-15,-15,-15,-15,-14,-14,-14,-14,-13,-12,-9,-8,-7,-7,-7,-6,-6,-6,-5,-5,-4,-4,-4,-5,-6,-10,-11,-12,-13],
[-9,-10,-13,-14,-15,-15,-15,-15,-15,-15,-15,-15,-15,-15,-15,-14,-13,-10,-6,-3,-3,-2,-2,-2,-2,-2,-2,-2,-2,-2,-2,-2,-3,-5,-7,-9,-10],
[-6,-5,-7,-12,-13,-15,-15,-15,-15,-15,-15,-15,-15,-15,-15,-15,-10,-4,-3,-2,0.3,0.5,0.8,0.5,1,1,0.5,-1,-1,-1,-1,-2,-3,-3,-4,-4,-5],
[-4,-4,-5,-7,-8,-10,-13,-15,-15,-15,-15,-15,-15,-13,-12,-10,-4,-2,-1,0.3,1,3,2,2,3,1,0,-1,-1,-1,-1,-2,-2,-3,-4,-4,-4],
[-3,-3,-5,-5,-6,-6,-9,-9,-11,-12,-10,-9,-8,-5,-4,-3,-2,-1,0.5,1,2,3,3,2,1,-0.5,-1,-1,-1,-1,-1,-2,-2,-3,-3,-3,-3],
[-3,-3,-3,-4,-4,-5,-5,-5,-5,-4,-3,-3,-3,-2,-2,-2,-1,0.5,2,3,3,3,4,2,2,0,1,1,1,1,0.5,-1,-2,-3,-4,-3,-3],
[-3,-4,-4,-4,-5,-6,-5,-5,-5,-4,-3,-3,-3,-2,-2,-2,-1,-1,0.5,2,2,3,2,1,2,2,1,3,4,4,3,2,1,0.5,-1,-2,-2]];

const W=1200,H=1343;
const FS=33;
const svg=d3.select('#chart').append('svg').attr('width',W).attr('height',H).attr('viewBox',`0 0 ${W} ${H}`);
svg.append('rect').attr('width',W).attr('height',H).attr('fill','#fff');

const jet=d3.scaleLinear().domain([0,.125,.375,.625,.875,1]).range(['#00008f','#0000ff','#00ffff','#ffff00','#ff0000','#800000']).clamp(true);
function makeColor(min,max){
  const t0=(0-min)/(max-min);
  const lo=d3.scaleLinear([min,0],[0,t0-.02]).clamp(true);
  const hi=d3.scaleLinear([0,max],[t0+.025,1]).clamp(true);
  return v=>jet(v<0?lo(v):hi(v));
}
const colorL=makeColor(-14,8), colorR=makeColor(-16,12);

const colFrames=[{x0:126,x1:542.7,tick0:131.7,color:colorL},{x0:651,x1:1067.7,tick0:657,color:colorR}];
const rowFrames=[{y0:107.7,y1:378},{y0:392.7,y1:663},{y0:678.7,y1:949},{y0:963.7,y1:1234}];
const grids=[[marAprLinear,marAprQuadratic],[junJulLinear,junJulQuadratic],[sepOctLinear,sepOctQuadratic],[decJanLinear,decJanQuadratic]];

function styleAxis(g){g.select('.domain').remove();g.selectAll('line').attr('stroke','#111').attr('stroke-width',1.5);g.selectAll('text').remove();}
function runs(ring,nx,ny){
  const pts=ring.slice(0,-1);
  const onB=p=>p[0]<=0||p[0]>=nx||p[1]<=0||p[1]>=ny;
  const s=pts.findIndex(onB);
  if(s<0) return [{pts,closed:true}];
  const out=[];let cur=[];
  for(let k=0;k<pts.length;k++){
    const p=pts[(s+k)%pts.length];
    if(onB(p)){if(cur.length>1)out.push({pts:cur,closed:false});cur=[];}
    else cur.push(p);
  }
  if(cur.length>1)out.push({pts:cur,closed:false});
  return out;
}
const degreeLabel=(t,txt)=>{t.append('tspan').text(txt);t.append('tspan').attr('dy',-11).attr('font-size',21).text('o');t.append('tspan').attr('dy',11).text(')');};

rowFrames.forEach((rf,ri)=>{
  colFrames.forEach((cf,ci)=>{
    const x=d3.scaleLinear([-180,180],[cf.tick0,cf.tick0+404.5]);
    const y=d3.scaleLinear([60,-60],[rf.y0+7.3,rf.y1-7]);
    const g=svg.append('g');
    const rows=grids[ri][ci].map(r=>{const c=r.slice(0,lons.length);while(c.length<lons.length)c.push(c[c.length-1]);return c;});
    const cellW=x(10)-x(0),cellH=y(0)-y(5);
    rows.forEach((r,i)=>{
      g.selectAll(null).data(r).enter().append('rect')
       .attr('x',(d,j)=>x(lons[j]-5)).attr('y',y(lats[i]+2.5))
       .attr('width',cellW).attr('height',cellH)
       .attr('fill',d=>cf.color(d)).attr('stroke','#fff').attr('stroke-width',.9).attr('stroke-opacity',.85);
    });
    const nx=lons.length,ny=lats.length;
    const cont=d3.contours().size([nx,ny]).smooth(true).thresholds([0])(rows.flat())[0];
    const toPx=p=>[x(-180+(p[0]-.5)*10),y(60-(p[1]-.5)*5)];
    const open=d3.line().curve(d3.curveCatmullRom.alpha(.5));
    const closed=d3.line().curve(d3.curveCatmullRomClosed.alpha(.5));
    cont.coordinates.forEach(poly=>poly.forEach(ring=>{
      runs(ring,nx,ny).forEach(run=>{
        g.append('path').attr('d',(run.closed?closed:open)(run.pts.map(toPx)))
         .attr('fill','none').attr('stroke','#000').attr('stroke-width',3.2).attr('stroke-linejoin','round').attr('stroke-linecap','round');
      });
    }));
    g.append('path').datum(eqLon.map((d,i)=>[x(d),y(eqLat[i])]))
     .attr('d',d3.line().curve(d3.curveCatmullRom.alpha(.5)))
     .attr('fill','none').attr('stroke','#fff').attr('stroke-width',4.5).attr('stroke-linecap','round');
    g.append('rect').attr('x',cf.x0).attr('y',rf.y0).attr('width',cf.x1-cf.x0).attr('height',rf.y1-rf.y0)
     .attr('fill','none').attr('stroke','#111').attr('stroke-width',1.8);
    g.append('g').attr('transform',`translate(0,${rf.y1})`).call(d3.axisBottom(x).tickValues(lonTicks).tickSize(12)).call(styleAxis);
    g.append('g').attr('transform',`translate(0,${rf.y0})`).call(d3.axisTop(x).tickValues(lonTicks).tickSize(12)).call(styleAxis);
    g.append('g').attr('transform',`translate(${cf.x0},0)`).call(d3.axisLeft(y).tickValues(latMajor).tickSize(12)).call(styleAxis);
    g.append('g').attr('transform',`translate(${cf.x0},0)`).call(d3.axisLeft(y).tickValues(latMinor).tickSize(6)).call(styleAxis);
    g.append('g').attr('transform',`translate(${cf.x1},0)`).call(d3.axisRight(y).tickValues(latMajor).tickSize(12)).call(styleAxis);
    g.append('g').attr('transform',`translate(${cf.x1},0)`).call(d3.axisRight(y).tickValues(latMinor).tickSize(6)).call(styleAxis);
    if(ci===0){
      latLabels.forEach(v=>{
        svg.append('text').attr('x',104).attr('y',y(v)+11).attr('text-anchor','end').attr('font-size',FS).text(String(v).replace('-','\u2212'));
      });
      svg.append('text').attr('transform',`translate(30,${(rf.y0+rf.y1)/2-3}) rotate(-90)`).attr('text-anchor','middle').attr('font-size',34.3)
        .call(t=>degreeLabel(t,'Geog. Latitude ( '));
    }
    if(ri===3){
      lonLabels.forEach(v=>{
        svg.append('text').attr('x',x(v)-(v<0?9:0)).attr('y',1287.5).attr('text-anchor','middle').attr('font-size',FS).text(String(v).replace('-','\u2212'));
      });
      svg.append('text').attr('x',(cf.x0+cf.x1)/2+1).attr('y',1334).attr('text-anchor','middle').attr('font-size',34.3)
        .call(t=>degreeLabel(t,'Geog. Longitude ( '));
    }
  });
});

const bars=[
 {x:560.5,w:18.5,min:-14,max:8,color:colorL,lines:[0,-8],labels:[8,0,-8],lx:589,tx:555,ty:376},
 {x:1085.5,w:18.5,min:-16,max:12,color:colorR,lines:[8,0,-8],labels:[8,0,-8,-16],lx:1113,tx:1082,ty:383}];
bars.forEach(b=>{
  const y=d3.scaleLinear([b.min,b.max],[664,392.7]);
  const g=svg.append('g');
  g.selectAll(null).data(d3.range(392.7,664,1)).enter().append('rect')
   .attr('x',b.x).attr('y',d=>d).attr('width',b.w).attr('height',1.2).attr('fill',d=>b.color(y.invert(d+.5)));
  g.append('rect').attr('x',b.x).attr('y',392.7).attr('width',b.w).attr('height',271.3).attr('fill','none').attr('stroke','#111').attr('stroke-width',1.2);
  g.selectAll(null).data(b.lines).enter().append('line').attr('x1',b.x).attr('x2',b.x+b.w).attr('y1',d=>y(d)).attr('y2',d=>y(d)).attr('stroke','#111').attr('stroke-width',1.2);
  b.labels.forEach(v=>{
    svg.append('text').attr('x',b.lx).attr('y',y(v)+11).attr('font-size',FS).text(String(v).replace('-','\u2212'));
  });
  svg.append('text').attr('x',b.tx).attr('y',b.ty).attr('font-size',FS).text('TECu');
});

const title=(x,y,len,txt)=>svg.append('text').attr('x',x).attr('y',y).attr('font-size',FS).attr('font-style','italic').attr('textLength',len).attr('lengthAdjust','spacing').text(txt);
svg.append('text').attr('x',296).attr('y',31).attr('font-size',FS).attr('font-style','italic').attr('textLength',234).attr('lengthAdjust','spacing')
  .call(t=>{t.append('tspan').text('TEC(EUV \u2192 0');t.append('tspan').attr('dy',-12).attr('font-size',24).text('+');t.append('tspan').attr('dy',12).text(')');});
title(609,31,281,'Daytime @ 1200 LT');
title(97,83,459,'TEC Derived from Linear Fitting');
title(619,83,508,'TEC Derived from Quadratic Fitting');
const sideLabels=['Mar\u2212Apr','Jun\u2212Jul','Sep\u2212Oct','Dec\u2212Jan'];
const sideY=[243,557,836,1120];
const sideLen=[119,115,122,130];
sideLabels.forEach((s,i)=>{
  svg.append('text').attr('transform',`translate(1192,${sideY[i]}) rotate(-90)`).attr('text-anchor','middle').attr('font-size',FS).attr('font-style','italic').attr('textLength',sideLen[i]).attr('lengthAdjust','spacingAndGlyphs').text(s);
});
</script></body></html>
